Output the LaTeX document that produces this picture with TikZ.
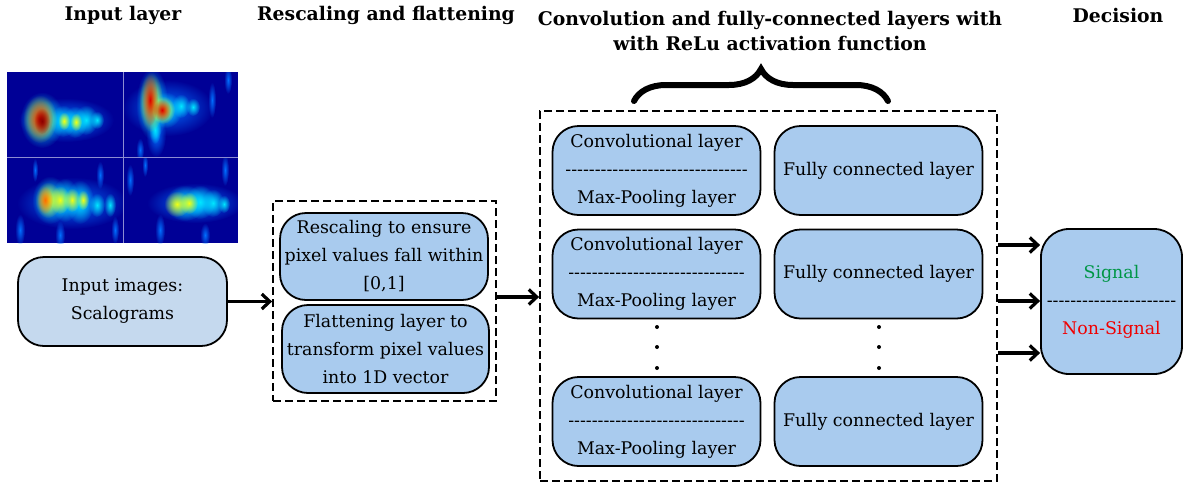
\documentclass[tikz,border=0pt]{standalone}
\usepackage{fontspec}
\setmainfont{DejaVu Serif}[Ligatures=TeXOff]
\usetikzlibrary{arrows.meta,decorations.pathreplacing,fadings,calc}
\definecolor{boxblue}{RGB}{169,203,238}
\definecolor{inblue}{RGB}{197,217,238}
\definecolor{jetbg}{RGB}{0,0,150}
\definecolor{jethalo}{RGB}{0,110,255}
\definecolor{jetcyan}{RGB}{0,230,255}
\definecolor{jetyellow}{RGB}{240,255,20}
\definecolor{jetorange}{RGB}{255,110,0}
\definecolor{jetred}{RGB}{220,0,0}
\definecolor{jetdark}{RGB}{140,0,0}
\definecolor{sigGreen}{RGB}{0,150,70}
\definecolor{sigRed}{RGB}{240,0,0}
\tikzfading[name=blobfade, inner color=transparent!0, outer color=transparent!100]
\newcommand\blob[5]{\fill[#1, path fading=blobfade] (#2,#3) ellipse [x radius=#4, y radius=#5];}
\begin{document}
\begin{tikzpicture}[x=1pt,y=-1pt,
  layerbox/.style={draw=black, line width=1.8pt, fill=boxblue, rounded corners=26pt,
    align=center, inner sep=0pt, minimum width=208pt, minimum height=89pt,
    font=\fontsize{17.4}{28}\selectfont},
  groupbox/.style={draw=black, line width=1.8pt, dash pattern=on 8pt off 4pt, inner sep=0pt},
  header/.style={align=center, inner sep=0pt, font=\fontsize{18.8}{25.5}\selectfont\bfseries},
  conn/.style={line width=3.2pt, -{Straight Barb[length=8pt,width=15pt]}},
  dotmark/.style={fill=black}
]
\useasboundingbox (0,0) rectangle (1184,483);

% headers
\node[header] (h1) at (123,15) {Input layer};
\node[header] (h2) at (386,15) {Rescaling and flattening};
\node[header] (h3) at (770,31) {Convolution and fully-connected layers with\\with ReLu activation function};
\node[header] (h4) at (1118,15) {Decision};

% brace
\coordinate (brL) at (634,101);
\coordinate (brR) at (888,101);
\draw[line width=6pt, line cap=round, decorate, decoration={brace, amplitude=32pt}] (brL) -- (brR);

% scalograms
\fill[jetbg] (7,72) rectangle (238,243);
% top-left
\begin{scope}
\clip (7,72) rectangle (123,157);
\blob{jethalo}{66}{120}{48}{22}
\blob{jetcyan}{42}{120}{22}{28}
\blob{jetcyan}{63}{121}{13}{16}
\blob{jetcyan}{75}{122}{12}{16}
\blob{jetcyan}{86}{120}{12}{15}
\blob{jetcyan}{97}{120}{7}{9}
\blob{jetyellow}{64}{121}{6}{9}
\blob{jetyellow}{76}{122}{6}{9}
\blob{jetyellow}{40}{119}{17}{24}
\blob{jetred}{40}{119}{13}{19}
\blob{jetdark}{42}{121}{8}{13}
\end{scope}
% top-right
\begin{scope}
\clip (123,72) rectangle (238,157);
\blob{jethalo}{168}{108}{45}{28}
\blob{jethalo}{156}{135}{10}{22}
\blob{jethalo}{212}{100}{4}{18}
\blob{jethalo}{228}{80}{4}{14}
\blob{jethalo}{140}{150}{4}{12}
\blob{jetcyan}{152}{104}{16}{36}
\blob{jetcyan}{166}{110}{16}{18}
\blob{jetcyan}{181}{106}{9}{12}
\blob{jetcyan}{193}{107}{7}{9}
\blob{jetcyan}{155}{130}{6}{14}
\blob{jetyellow}{151}{102}{12}{30}
\blob{jetyellow}{163}{110}{12}{14}
\blob{jetred}{150}{100}{8}{26}
\blob{jetred}{162}{110}{9}{11}
\end{scope}
% bottom-left
\begin{scope}
\clip (7,157) rectangle (123,243);
\blob{jethalo}{72}{203}{55}{26}
\blob{jethalo}{20}{230}{5}{16}
\blob{jethalo}{100}{175}{4}{14}
\blob{jethalo}{60}{235}{5}{14}
\blob{jethalo}{115}{230}{4}{14}
\blob{jethalo}{35}{170}{3}{12}
\blob{jetcyan}{50}{200}{18}{24}
\blob{jetcyan}{65}{200}{14}{22}
\blob{jetcyan}{80}{202}{14}{22}
\blob{jetcyan}{97}{205}{8}{12}
\blob{jetcyan}{110}{205}{6}{12}
\blob{jetyellow}{48}{200}{13}{18}
\blob{jetyellow}{60}{200}{10}{14}
\blob{jetyellow}{72}{200}{8}{12}
\blob{jetyellow}{83}{200}{6}{10}
\blob{jetorange}{45}{200}{8}{14}
\end{scope}
% bottom-right
\begin{scope}
\clip (123,157) rectangle (238,243);
\blob{jethalo}{195}{203}{48}{20}
\blob{jethalo}{130}{180}{4}{16}
\blob{jethalo}{160}{230}{5}{16}
\blob{jethalo}{225}{170}{4}{16}
\blob{jethalo}{205}{235}{5}{12}
\blob{jethalo}{145}{165}{3}{12}
\blob{jetcyan}{185}{203}{20}{18}
\blob{jetcyan}{200}{202}{15}{17}
\blob{jetcyan}{213}{203}{11}{14}
\blob{jetcyan}{224}{204}{6}{9}
\blob{jetyellow}{177}{204}{13}{13}
\blob{jetyellow}{189}{203}{9}{11}
\end{scope}
\draw[line width=0.8pt, color={rgb,255:red,140;green,140;blue,210}] (123,72) -- (123,243) (7,157) -- (238,157);

% input box
\node[layerbox, fill=inblue, minimum width=209pt, minimum height=89pt] (in) at (122.5,301.5) {Input images:\\Scalograms};

% rescaling group
\node[groupbox, minimum width=223pt, minimum height=200pt] (d1) at (384.5,301) {};
\node[layerbox, minimum width=208pt, minimum height=87pt] (r1) at (384,256.5) {Rescaling to ensure\\pixel values fall within\\{[0,1]}};
\node[layerbox, minimum width=207pt, minimum height=88pt] (r2) at (385.5,349) {Flattening layer to\\transform pixel values\\into 1D vector};

% conv / fc group
\node[groupbox, minimum width=457pt, minimum height=370pt] (d2) at (768.5,296) {};
\node[layerbox] (c1) at (656.5,170.5) {Convolutional layer\\-------------------------------\\Max-Pooling layer};
\node[layerbox] (c2) at (656.5,274) {Convolutional layer\\------------------------------\\Max-Pooling layer};
\node[layerbox] (c3) at (656.5,421.5) {Convolutional layer\\------------------------------\\Max-Pooling layer};
\node[layerbox] (f1) at (878.5,170.5) {Fully connected layer};
\node[layerbox] (f2) at (878.5,274) {Fully connected layer};
\node[layerbox] (f3) at (878.5,421.5) {Fully connected layer};

\foreach \yy in {327,347,368}{
  \fill[dotmark] (657,\yy) circle (2pt);
  \fill[dotmark] (879,\yy) circle (2pt);
}

% decision
\node[layerbox, minimum width=141pt, minimum height=145pt, rounded corners=28pt] (dec) at (1111.5,301.5)
  {{\color{sigGreen}Signal}\\----------------------\\{\color{sigRed}Non-Signal}};

% connectors
\draw[conn] (in.east) -- (in.east -| d1.west);
\draw[conn] (d1.east |- 0,297) -- (d2.west |- 0,297);
\draw[conn] (d2.east |- 0,245) -- (dec.west |- 0,245);
\draw[conn] (d2.east |- 0,301) -- (dec.west |- 0,301);
\draw[conn] (d2.east |- 0,353) -- (dec.west |- 0,353);
\end{tikzpicture}
\end{document}
